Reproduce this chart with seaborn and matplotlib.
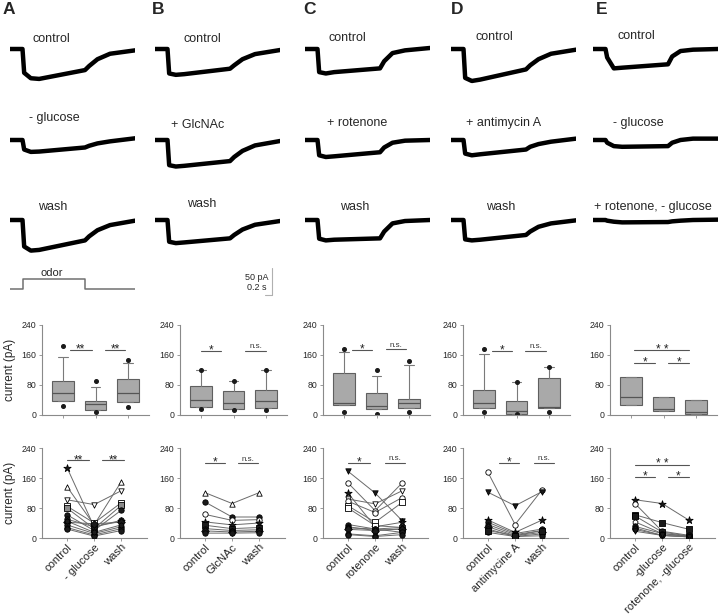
import numpy as np
import pandas as pd
import matplotlib
matplotlib.use("Agg")
import matplotlib.pyplot as plt
from matplotlib.lines import Line2D
import seaborn as sns

sns.set_theme(style="ticks")
plt.rcParams["font.family"] = ["Liberation Sans", "DejaVu Sans"]

# ---------------- data ----------------
panel_letters = ["A", "B", "C", "D", "E"]

# whole-cell traces (time in s, current in pA relative to baseline)
trace_t = [0, 0.15, 0.17, 0.25, 0.35, 0.9, 0.95, 1.05, 1.2, 1.5]
trA_control = [0, 0, -70, -86, -88, -62, -50, -30, -14, -4]
trA_glucose = [0, 0, -28, -35, -34, -22, -17, -10, -4, 5]
trA_wash = [0, 0, -78, -90, -88, -60, -48, -30, -15, -2]
trB_control = [0, 0, -72, -76, -74, -58, -48, -30, -15, -3]
trB_glcnac = [0, 0, -74, -78, -76, -62, -50, -32, -16, -3]
trB_wash = [0, 0, -64, -68, -66, -54, -44, -28, -14, -3]
trC_control = [0, 0, -68, -72, -68, -57, -36, -12, -4, 3]
trC_rotenone = [0, 0, -45, -50, -48, -36, -22, -8, -2, 0]
trC_wash = [0, 0, -55, -60, -58, -54, -34, -10, -3, 0]
trD_control = [0, 0, -85, -94, -90, -60, -48, -30, -14, -2]
trD_antimycin = [0, 0, -40, -45, -42, -28, -20, -12, -5, 4]
trD_wash = [0, 0, -57, -60, -58, -44, -34, -20, -10, -1]
trE_control = [0, 0, -25, -57, -55, -45, -22, -6, -2, 0]
trE_glucose = [0, 0, -8, -18, -20, -18, -8, 0, 4, 4]
trE_rotenone = [0, 0, -2, -5, -7, -6, -4, -2, 0, 1]
traces = [
    [trA_control, trA_glucose, trA_wash],
    [trB_control, trB_glcnac, trB_wash],
    [trC_control, trC_rotenone, trC_wash],
    [trD_control, trD_antimycin, trD_wash],
    [trE_control, trE_glucose, trE_rotenone],
]
trace_labels = [
    ["control", "- glucose", "wash"],
    ["control", "+ GlcNAc", "wash"],
    ["control", "+ rotenone", "wash"],
    ["control", "+ antimycin A", "wash"],
    ["control", "- glucose", "+ rotenone, - glucose"],
]
odor_t = [0, 0.16, 0.16, 0.9, 0.9, 1.5]
odor_on = [0, 0, 1, 1, 0, 0]

# box plot statistics (pA)
box_q1 = [[38, 14, 36], [21, 16, 18], [27, 16, 19], [20, 4, 20], [28, 10, 3]]
box_med = [[60, 29, 60], [40, 32, 38], [32, 23, 32], [33, 11, 22], [49, 16, 7]]
box_q3 = [[90, 38, 96], [77, 63, 68], [113, 58, 44], [67, 37, 100], [101, 49, 39]]
box_whi = [[156, 74, 138], [119, 90, 119], [168, 105, 133], [163, 87, 127], [101, 49, 39]]
box_p95 = [[185, 92, 148], [119, 90, 119], [176, 120, 145], [175, 89, 127], None]
box_p5 = [[25, 7, 22], [16, 14, 13], [7, 3, 7], [7, 2, 7], None]

# individual cells (pA)
lineA_control = [188, 137, 102, 85, 80, 62, 50, 42, 35, 28, 24, 45]
lineA_glucose = [30, 35, 89, 40, 25, 20, 30, 38, 12, 8, 5, 15]
lineA_wash = [45, 150, 126, 94, 87, 74, 47, 42, 30, 25, 20, 35]
lineB_control = [121, 96, 63, 43, 34, 25, 19, 13]
lineB_glcnac = [92, 56, 47, 35, 25, 20, 16, 13]
lineB_wash = [121, 56, 49, 40, 28, 22, 18, 14]
lineC_control = [178, 147, 120, 104, 98, 86, 80, 36, 30, 27, 23, 11, 9]
lineC_rotenone = [120, 73, 30, 91, 68, 42, 33, 24, 20, 24, 20, 6, 4]
lineC_wash = [46, 147, 42, 126, 108, 95, 28, 28, 24, 15, 24, 15, 9]
lineD_control = [175, 122, 48, 42, 36, 30, 24, 15, 20]
lineD_antimycin = [36, 86, 15, 12, 9, 6, 4, 4, 6]
lineD_wash = [129, 124, 48, 24, 20, 15, 11, 6, 20]
lineE_control = [102, 92, 62, 59, 43, 31, 27, 23, 18]
lineE_glucose = [92, 18, 41, 16, 12, 12, 7, 7, 7]
lineE_rotenone = [47, 7, 23, 5, 5, 3, 3, 3, 3]
lines_data = [
    [lineA_control, lineA_glucose, lineA_wash],
    [lineB_control, lineB_glcnac, lineB_wash],
    [lineC_control, lineC_rotenone, lineC_wash],
    [lineD_control, lineD_antimycin, lineD_wash],
    [lineE_control, lineE_glucose, lineE_rotenone],
]
cond_labels = [
    ["control", "- glucose", "wash"],
    ["control", "GlcNAc", "wash"],
    ["control", "rotenone", "wash"],
    ["control", "antimycine A", "wash"],
    ["control", "-glucose", "rotenone, -glucose"],
]
yticks = [0, 80, 160, 240]

# significance annotations: (x0, x1, y, text)
sig_box = [
    [(0.2, 0.88, 174, "**"), (1.3, 1.9, 174, "**")],
    [(0.0, 0.62, 172, "*"), (1.37, 2.0, 172, "n.s.")],
    [(0.24, 0.85, 174, "*"), (1.3, 1.9, 176, "n.s.")],
    [(0.24, 0.85, 172, "*"), (1.27, 1.9, 172, "n.s.")],
    [(0.1, 1.8, 173, "* *"), (0.1, 0.74, 140, "*"), (1.14, 1.8, 140, "*")],
]
sig_line = [
    [(0.0, 0.81, 207, "**"), (1.3, 2.1, 207, "**")],
    [(0.0, 0.75, 200, "*"), (1.2, 1.96, 200, "n.s.")],
    [(0.0, 0.8, 200, "*"), (1.35, 2.1, 201, "n.s.")],
    [(0.4, 1.15, 200, "*"), (1.7, 2.45, 201, "n.s.")],
    [(0.0, 2.0, 196, "* *"), (0.0, 0.75, 164, "*"), (1.2, 2.0, 164, "*")],
]

# ---------------- styles ----------------
markers = [
    (["*", "^", "v", "s", "s", "o", "o", "D", "o", "o", "o", "h"],
     ["k", "w", "w", "w", "0.55", "k", "k", "k", "k", "k", "k", "k"]),
    (["^", "o", "o", "*", "s", "o", "D", "o"],
     ["w", "k", "w", "k", "k", "k", "k", "k"]),
    (["v", "o", "*", "v", "o", "s", "s", "o", "o", "o", "D", "o", "o"],
     ["k", "w", "k", "w", "w", "w", "w", "k", "k", "k", "k", "k", "k"]),
    (["o", "v", "*", "o", "o", "D", "o", "o", "s"],
     ["w", "k", "k", "k", "k", "k", "k", "k", "k"]),
    (["*", "o", "s", "s", "h", "o", "o", "o", "v"],
     ["k", "w", "k", "k", "w", "k", "k", "k", "k"]),
]

W, H = 720, 615
fig = plt.figure(figsize=(W / 100, H / 100), dpi=100)


def add_ax(x, y, w, h):
    return fig.add_axes([x / W, 1 - (y + h) / H, w / W, h / H])


def ftext(x, y, s, **kw):
    fig.text(x / W, 1 - y / H, s, **kw)


trace_x0 = [10, 155, 305, 451, 593]
trace_w = 125
row_base = [49, 140, 220]
pxpa = 0.34
label_pos = [
    [(51, 39), (54, 118), (53, 207)],
    [(202, 39), (198, 125), (202, 204)],
    [(347, 38), (357, 123), (355, 207)],
    [(494, 37), (504, 123), (501, 207)],
    [(636, 36), (638, 123), (653, 207)],
]
letter_x = [9, 158, 309, 457, 602]

for c in range(5):
    ftext(letter_x[c], 10, panel_letters[c], ha="center", va="center",
          fontsize=12.5, fontweight="bold")
    for r in range(3):
        ylo, yhi = -110, 25
        h = (yhi - ylo) * pxpa
        ax = add_ax(trace_x0[c], row_base[r] - yhi * pxpa, trace_w, h)
        df = pd.DataFrame({"t": trace_t, "I": traces[c][r]})
        sns.lineplot(data=df, x="t", y="I", ax=ax, color="black", lw=3.2,
                     estimator=None, sort=False)
        ax.set_xlim(0, 1.5)
        ax.set_ylim(ylo, yhi)
        ax.axis("off")
        lx, ly = label_pos[c][r]
        ftext(lx, ly, trace_labels[c][r], ha="center", va="center", fontsize=9)

# odor step
ax = add_ax(trace_x0[0], 277, trace_w, 14)
sns.lineplot(x=odor_t, y=odor_on, ax=ax, color="#707070", lw=1.1,
             estimator=None, sort=False)
ax.set_xlim(0, 1.5)
ax.set_ylim(-0.2, 1.2)
ax.axis("off")
ftext(52, 273, "odor", ha="center", va="center", fontsize=8)

# scale bar
fig.add_artist(Line2D([272 / W, 272 / W], [1 - 268 / H, 1 - 295 / H],
                      color="#b0b0b0", lw=0.8))
fig.add_artist(Line2D([265 / W, 272 / W], [1 - 295 / H, 1 - 295 / H],
                      color="#b0b0b0", lw=0.8))
ftext(257, 277, "50 pA", ha="center", va="center", fontsize=6.5)
ftext(257, 288, "0.2 s", ha="center", va="center", fontsize=6.5)

axis_x0 = [42, 180, 323, 463, 610]


def style_axis(ax):
    for s in ["top", "right"]:
        ax.spines[s].set_visible(False)
    for s in ["left", "bottom"]:
        ax.spines[s].set_color("#8a8a8a")
        ax.spines[s].set_linewidth(0.8)
    ax.set_ylim(0, 240)
    ax.set_yticks(yticks)
    ax.tick_params(axis="both", length=2.5, width=0.6, color="#8a8a8a",
                   labelsize=6.3, pad=1.5, left=True, bottom=True)


def draw_sig(ax, items):
    for x0, x1, y, t in items:
        ax.plot([x0, x1], [y, y], color="#555555", lw=0.8, clip_on=False)
        if t == "n.s.":
            ax.text((x0 + x1) / 2, y + 6, t, ha="center", va="baseline",
                    fontsize=5.8, color="#333333")
        else:
            ax.text((x0 + x1) / 2, y - 7, t, ha="center", va="baseline",
                    fontsize=8.5, color="#222222")


for c in range(5):
    # box plots
    ax = add_ax(axis_x0[c], 325, 107, 90)
    stats = []
    for k in range(3):
        d = dict(q1=box_q1[c][k], med=box_med[c][k], q3=box_q3[c][k],
                 whislo=box_q1[c][k], whishi=box_whi[c][k],
                 fliers=[] if box_p95[c] is None else [box_p95[c][k], box_p5[c][k]])
        stats.append(d)
    ax.bxp(stats, positions=[0, 1, 2], widths=0.66, patch_artist=True,
           showcaps=True, capwidths=0.3, manage_ticks=False,
           boxprops=dict(facecolor="#a9a9a9", edgecolor="#5f5f5f", lw=0.8),
           medianprops=dict(color="#555555", lw=0.9),
           whiskerprops=dict(color="#7a7a7a", lw=0.8),
           capprops=dict(color="#7a7a7a", lw=0.8),
           flierprops=dict(marker="o", markerfacecolor="k", markeredgecolor="k",
                           markersize=2.6, linestyle="none"))
    style_axis(ax)
    ax.set_xlim(-0.65, 2.65)
    ax.set_xticks([0, 1, 2])
    ax.set_xticklabels([])
    ax.set_xlabel("")
    ax.set_ylabel("")
    draw_sig(ax, sig_box[c])
    if c == 0:
        ax.set_ylabel("current (pA)", fontsize=8.5, labelpad=4)

    # individual lines
    ax = add_ax(axis_x0[c], 448, 105, 90)
    vals = lines_data[c]
    n = len(vals[0])
    df = pd.DataFrame({
        "subj": np.repeat(np.arange(n), 3),
        "cond": np.tile([0, 1, 2], n),
        "value": [vals[k][i] for i in range(n) for k in range(3)],
    })
    sns.lineplot(data=df, x="cond", y="value", units="subj", estimator=None,
                 color="#6a6a6a", lw=0.7, ax=ax, legend=False)
    mk, fl = markers[c]
    for i in range(n):
        sub = df[df["subj"] == i]
        size = 30 if mk[i] == "*" else 15
        sns.scatterplot(data=sub, x="cond", y="value", marker=mk[i], color=fl[i],
                        edgecolor="black", linewidth=0.6, s=size, ax=ax,
                        legend=False, zorder=3)
    style_axis(ax)
    ax.set_xlim(-0.92, 2.95)
    ax.set_xticks([0, 1, 2])
    ax.set_xticklabels(cond_labels[c], rotation=45, ha="right",
                       rotation_mode="anchor", fontsize=8.1)
    ax.tick_params(axis="x", pad=0.5)
    ax.set_xlabel("")
    ax.set_ylabel("")
    draw_sig(ax, sig_line[c])
    if c == 0:
        ax.set_ylabel("current (pA)", fontsize=8.5, labelpad=4)

fig.savefig("out.png", dpi=100)
